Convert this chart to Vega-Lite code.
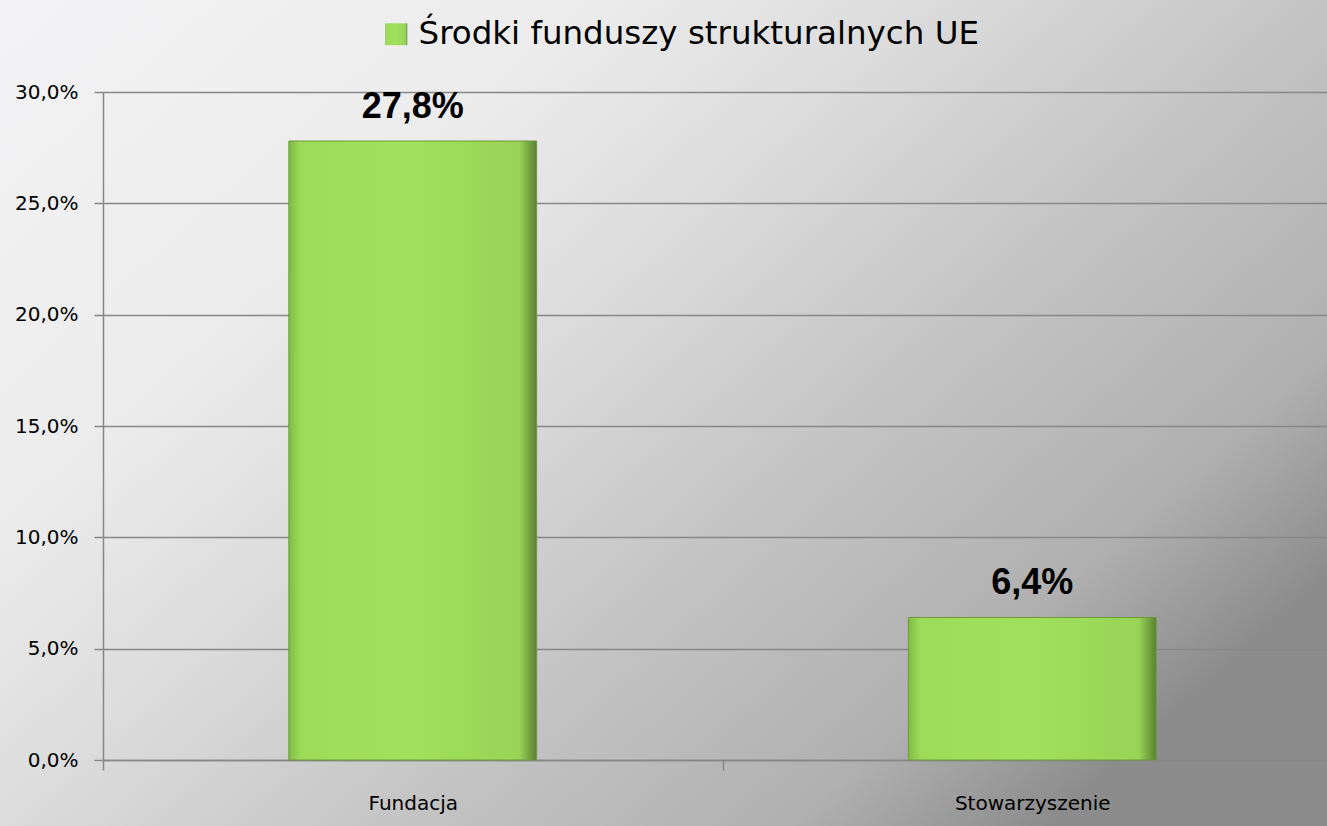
{
  "$schema": "https://vega.github.io/schema/vega-lite/v6.json",
  "width": 1327,
  "height": 826,
  "autosize": "none",
  "padding": 0,
  "background": "#b8b8b8",
  "config": {
    "locale": {"number": {"decimal": ",", "thousands": " ", "grouping": [3], "currency": ["", " zł"]}},
    "view": {
      "stroke": null,
      "fill": {
        "gradient": "linear", "x1": 0, "y1": 0, "x2": 1, "y2": 0.7,
        "stops": [
          {"offset": 0, "color": "#f3f3f5"},
          {"offset": 0.3, "color": "#ececec"},
          {"offset": 0.47, "color": "#dcdcdc"},
          {"offset": 0.67, "color": "#c4c4c4"},
          {"offset": 0.87, "color": "#b0b0b0"},
          {"offset": 1, "color": "#8c8c8c"}
        ]
      }
    }
  },
  "data": {
    "values": [
      {"kategoria": "Fundacja", "wartosc": 0.278, "seria": "Środki funduszy strukturalnych UE"},
      {"kategoria": "Stowarzyszenie", "wartosc": 0.064, "seria": "Środki funduszy strukturalnych UE"}
    ]
  },
  "encoding": {
    "x": {
      "field": "kategoria", "type": "nominal", "sort": null,
      "scale": {"range": [103, 1342], "paddingInner": 0, "paddingOuter": 0},
      "axis": {
        "title": null, "labelAngle": 0, "offset": -66, "grid": false,
        "domainColor": "#878787", "domainWidth": 1.5,
        "tickColor": "#878787", "tickWidth": 1.5, "tickSize": 10, "tickBand": "extent",
        "labelFont": "DejaVu Sans", "labelFontSize": 20, "labelColor": "#000000", "labelPadding": 23
      }
    },
    "y": {
      "field": "wartosc", "type": "quantitative",
      "scale": {"domain": [0, 0.3], "range": [760, 92], "nice": false, "zero": true},
      "axis": {
        "title": null, "format": ".1%", "values": [0, 0.05, 0.1, 0.15, 0.2, 0.25, 0.3],
        "offset": -103, "grid": true, "gridColor": "#878787", "gridWidth": 1.5,
        "domainColor": "#878787", "domainWidth": 1.5,
        "tickColor": "#878787", "tickWidth": 1.5, "tickSize": 9,
        "labelFont": "DejaVu Sans", "labelFontSize": 20, "labelColor": "#000000", "labelPadding": 16
      }
    }
  },
  "layer": [
    {
      "mark": {
        "type": "bar",
        "width": {"band": 0.4},
        "fill": {
          "gradient": "linear", "x1": 0, "y1": 0, "x2": 1, "y2": 0,
          "stops": [
            {"offset": 0, "color": "#7fbb45"},
            {"offset": 0.05, "color": "#9ddc5a"},
            {"offset": 0.5, "color": "#a0e05c"},
            {"offset": 0.93, "color": "#98d456"},
            {"offset": 1, "color": "#5a7f33"}
          ]
        },
        "stroke": "#6e9a3c",
        "strokeWidth": 1
      },
      "encoding": {
        "opacity": {
          "field": "seria", "type": "nominal",
          "scale": {"range": [1]},
          "legend": {
            "title": null, "orient": "none", "legendX": 380, "legendY": 18,
            "padding": 0, "symbolType": "square", "symbolSize": 484, "symbolStrokeWidth": 1,
            "symbolStrokeColor": "#6e9a3c", "symbolOpacity": 1,
            "labelFont": "DejaVu Sans", "labelFontSize": 32.5, "labelColor": "#000000",
            "labelOffset": 6, "labelLimit": 800
          }
        }
      }
    },
    {
      "mark": {
        "type": "text", "baseline": "alphabetic", "dy": -23, "color": "#000000",
        "font": "Liberation Sans", "fontWeight": "bold", "fontSize": 36
      },
      "encoding": {
        "text": {"field": "wartosc", "type": "quantitative", "format": ".1%"}
      }
    }
  ]
}
